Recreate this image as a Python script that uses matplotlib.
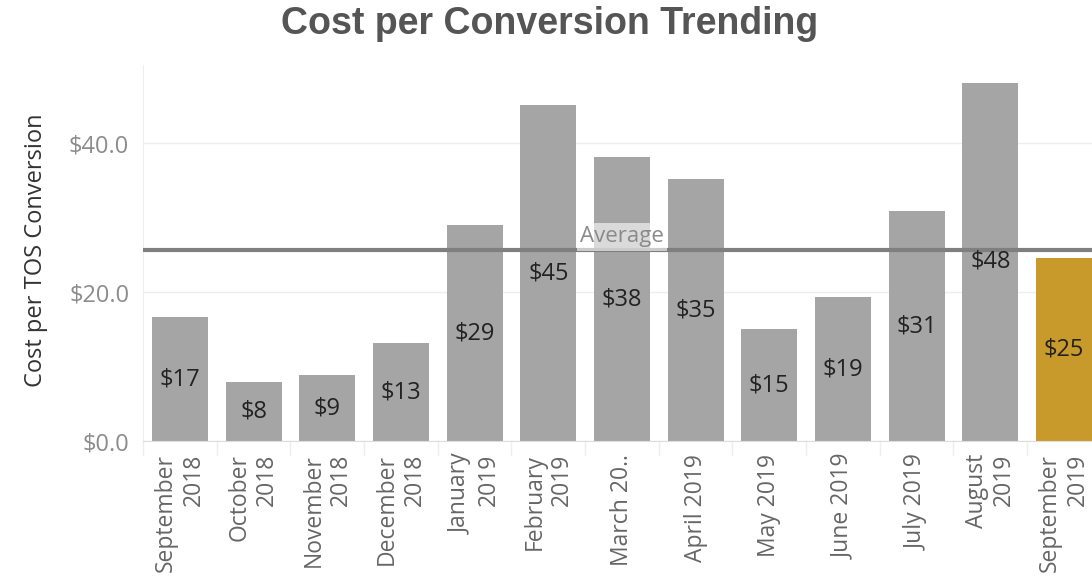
import matplotlib
matplotlib.use("Agg")
import matplotlib.pyplot as plt
import numpy as np

# monthly cost per TOS conversion
months = ["September\n2018", "October\n2018", "November\n2018", "December\n2018",
          "January\n2019", "February\n2019", "March 20..", "April 2019",
          "May 2019", "June 2019", "July 2019", "August\n2019", "September\n2019"]
cost = [16.6, 8.0, 8.9, 13.2, 29.0, 45.1, 38.1, 35.2, 15.0, 19.3, 30.9, 48.1, 24.6]
average = 25.6

plt.rcParams['font.family'] = ['Open Sans', 'DejaVu Sans']

fig = plt.figure(figsize=(10.92, 5.79), dpi=100)
ax = fig.add_axes([0.131, 0.238, 0.869, 0.65])

x = np.arange(len(cost))
colors = ['#a5a5a5'] * (len(cost) - 1) + ['#c79a2b']
ax.bar(x, cost, width=0.76, color=colors, zorder=2)

for xi, v in zip(x, cost):
    ax.text(xi, v / 2, "$%d" % round(v), ha='center', va='center',
            fontsize=17, color='#222222', zorder=4)

# reference line
ax.axhline(average, color='#7f7f7f', lw=3, zorder=3)
ax.text(6.0, average + 0.4, "Average", ha='center', va='bottom', fontsize=16,
        color='#8a8a8a', zorder=5,
        bbox=dict(boxstyle='square,pad=0.15', fc='white', ec='none', alpha=0.6))

ax.set_xlim(-0.5, 12.38)
ax.set_ylim(0, 50.5)
ax.set_yticks([0, 20, 40])
ax.set_yticklabels(["$0.0", "$20.0", "$40.0"])
ax.set_xticks(x)
ax.set_xticklabels(months, rotation=90, va='top', ha='center',
                   multialignment='right')
ax.tick_params(axis='y', length=0, labelsize=17, labelcolor='#8c8c8c', pad=10)
ax.tick_params(axis='x', length=0, labelsize=16.5, labelcolor='#666666', pad=9)

ax.grid(axis='y', color='#eeeeee', lw=1, zorder=0)
for s in ['top', 'right']:
    ax.spines[s].set_visible(False)
ax.spines['left'].set_color('#eeeeee')
ax.spines['bottom'].set_color('#dddddd')

# separators between month columns below the axis
for b in np.arange(-0.5, 12.5, 1.0):
    ax.plot([b, b], [0, -1.8], color='#eeeeee', lw=1, clip_on=False)

ax.set_ylabel("Cost per TOS Conversion", fontsize=17, color='#333333')
ax.yaxis.set_label_coords(-0.10, 0.508)
fig.suptitle("Cost per Conversion Trending", x=0.503, y=0.99, fontsize=27,
             fontweight='bold', color='#555555', family='Liberation Sans')

fig.savefig("out.png", dpi=100)
